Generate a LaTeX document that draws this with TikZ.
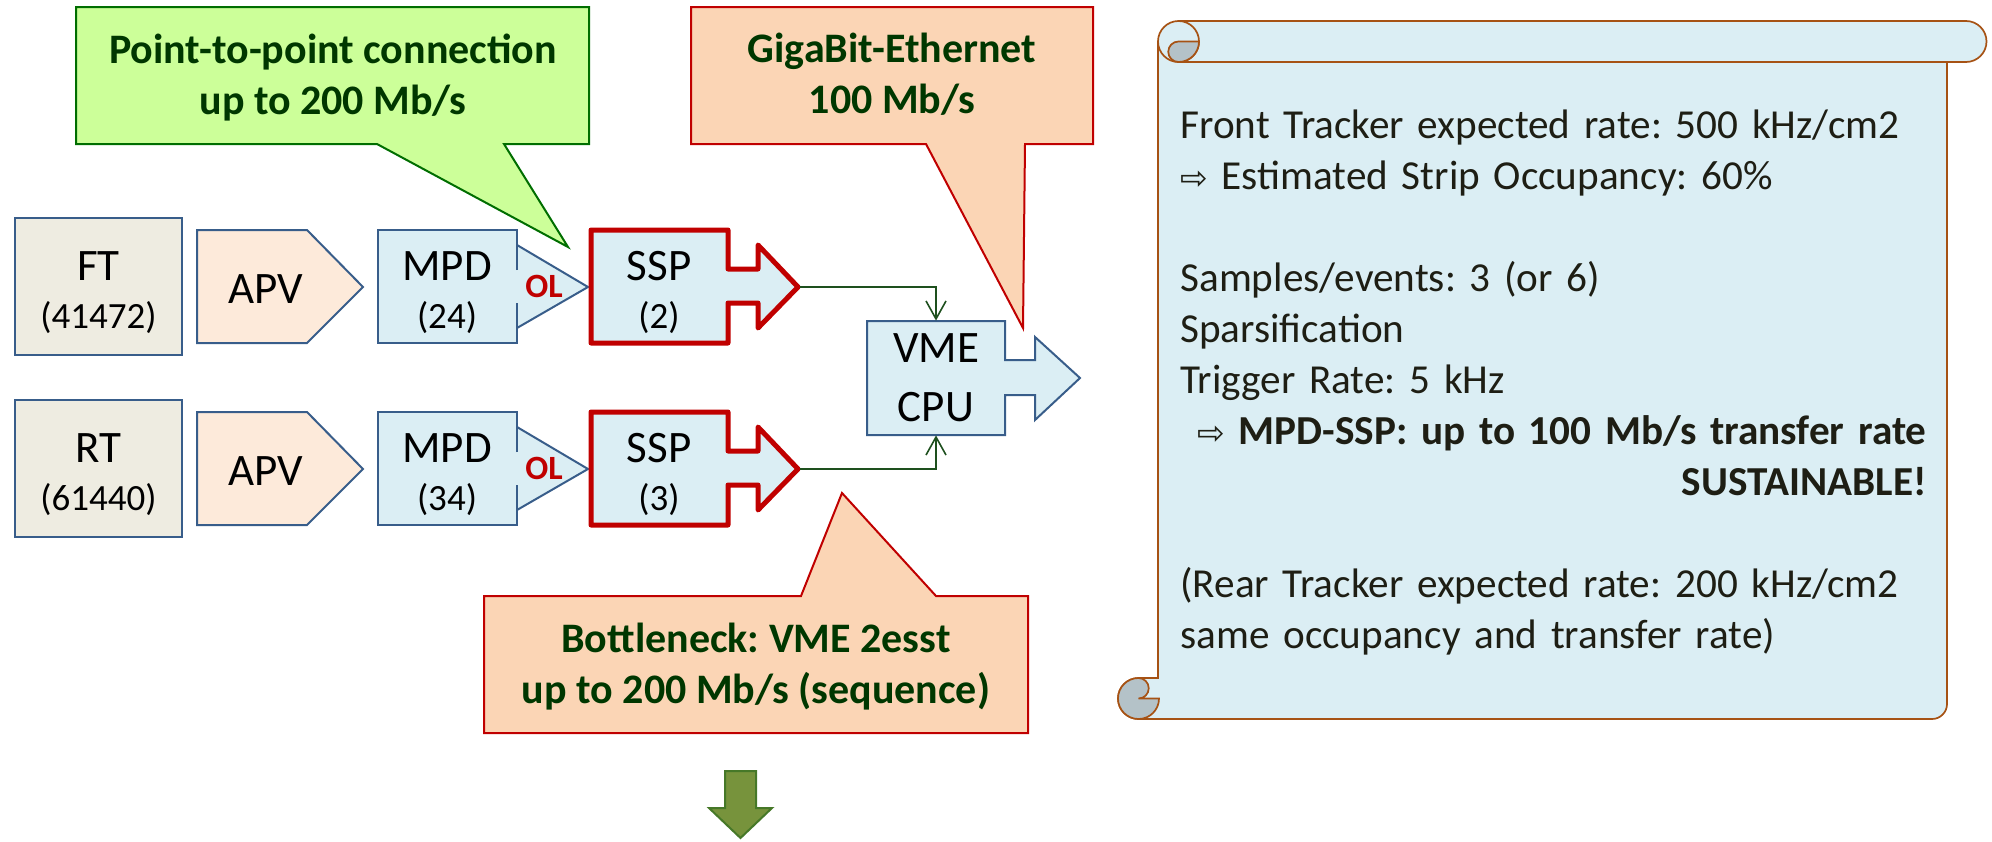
\documentclass[tikz,border=0pt]{standalone}
\usepackage{fontspec}
\setmainfont{Carlito}
\newfontfamily\arrowfont{DejaVu Sans}[Scale=0.8]
\usetikzlibrary{arrows.meta}
\frenchspacing

\definecolor{blkline}{RGB}{56,93,138}
\definecolor{blkfill}{RGB}{219,238,244}
\definecolor{detfill}{RGB}{238,236,225}
\definecolor{apvfill}{RGB}{253,234,218}
\definecolor{sspred}{RGB}{192,0,0}
\definecolor{linkgreen}{RGB}{30,80,30}
\definecolor{notegreen}{RGB}{204,255,153}
\definecolor{noteline}{RGB}{0,110,0}
\definecolor{notepeach}{RGB}{251,213,181}
\definecolor{notetext}{RGB}{0,55,0}
\definecolor{scrollline}{RGB}{166,82,20}
\definecolor{curlgrey}{RGB}{180,194,200}
\definecolor{downgreen}{RGB}{119,147,60}
\definecolor{downline}{RGB}{70,120,40}
\definecolor{scrolltext}{RGB}{30,30,20}

\begin{document}
\begin{tikzpicture}[x=0.5pt, y=-0.5pt,
  blk/.style={draw=blkline, line width=1pt},
  sspbox/.style={draw=sspred, line width=2.5pt, fill=blkfill, line join=round},
  lbl/.style={anchor=base, inner sep=0pt, font=\fontsize{22.5}{27}\selectfont},
  cnt/.style={anchor=base, inner sep=0pt, font=\fontsize{18.5}{22}\selectfont},
  ol/.style={anchor=base, inner sep=0pt, text=sspred, font=\bfseries\fontsize{17}{20}\selectfont},
  link/.style={draw=linkgreen, line width=0.8pt, -{Straight Barb[length=9pt,width=10pt]}},
  note/.style={line width=1pt},
  notetxt/.style={align=center, inner sep=0pt, text=notetext, font=\bfseries\fontsize{21}{25.5}\selectfont},
  scroll/.style={draw=scrollline, line width=0.85pt, fill=blkfill},
  curl/.style={draw=scrollline, line width=0.85pt, fill=curlgrey}]
\useasboundingbox (0,0) rectangle (1992,841);

% the two readout chains
\foreach \i/\dname/\nch/\nmpd/\nssp/\dy in {1/FT/41472/24/2/0, 2/RT/61440/34/3/182}{
\begin{scope}[shift={(0,\dy)}]
  % detector
  \draw[blk, fill=detfill] (15,218) rectangle (182,355);
  \node[lbl] (det\i) at (98.5,280) {\dname};
  \node[cnt] (ch\i) at (98.5,328) {(\nch)};
  % front-end chips
  \draw[blk, fill=apvfill] (197,230) -- (307,230) -- (363,287) -- (307,343) -- (197,343) -- cycle;
  \node[lbl] (apv\i) at (266,303) {APV};
  % MPD with its optical link
  \fill[blkfill] (378,230) -- (517,230) -- (517,245) -- (588,287) -- (517,328) -- (517,343) -- (378,343) -- cycle;
  \draw[blk] (517,270) -- (517,230) -- (378,230) -- (378,343) -- (517,343) -- (517,303);
  \draw[blk] (517,245) -- (588,287) -- (517,328);
  \node[lbl] (mpd\i) at (447,280) {MPD};
  \node[cnt] (nmpd\i) at (447,328) {(\nmpd)};
  \node[ol] (ol\i) at (544,297) {OL};
  % SSP
  \draw[sspbox] (591,230) -- (728,230) -- (728,269) -- (758,269) -- (758,245) -- (798,287)
    -- (758,328) -- (758,303) -- (728,303) -- (728,343) -- (591,343) -- cycle;
  \node[lbl] (ssp\i) at (659,280) {SSP};
  \node[cnt] (nssp\i) at (659,328) {(\nssp)};
  \coordinate (tip\i) at (800,287);
\end{scope}
}

% VME CPU
\draw[blk, fill=blkfill] (867,321) -- (1005,321) -- (1005,360) -- (1035,360) -- (1035,337) -- (1080,378)
  -- (1035,420) -- (1035,395) -- (1005,395) -- (1005,435) -- (867,435) -- cycle;
\node[align=center, inner sep=0pt, minimum width=69pt, minimum height=57pt,
  font=\fontsize{22.5}{29.5}\selectfont] (vme) at (936,378) {VME\\CPU};
\draw[link] (tip1) -| (vme.north);
\draw[link] (tip2) -| (vme.south);

% callouts
\draw[note, draw=noteline, fill=notegreen] (76,7) -- (589,7) -- (589,144) -- (504,144) -- (568,247)
  -- (377,144) -- (76,144) -- cycle;
\node[notetxt] (p2p) at (333,79) {\strut Point-to-point connection\\up to 200 Mb/s\strut};
\draw[note, draw=sspred, fill=notepeach] (691,7) -- (1093,7) -- (1093,144) -- (1025,144) -- (1023,328)
  -- (926,144) -- (691,144) -- cycle;
\node[notetxt] (gbe) at (892,78) {\strut GigaBit-Ethernet\\100 Mb/s\strut};
\draw[note, draw=sspred, fill=notepeach] (484,596) -- (801,596) -- (842,493) -- (936,596)
  -- (1028,596) -- (1028,733) -- (484,733) -- cycle;
\node[notetxt] (neck) at (756,668) {\strut Bottleneck: VME 2esst\\up to 200 Mb/s (sequence)\strut};

\draw[fill=downgreen, draw=downline, line width=1pt] (725,771) -- (756,771) -- (756,808) -- (772,808)
  -- (740.5,838) -- (709,808) -- (725,808) -- cycle;

% scroll with the rate estimate
\draw[scroll] (1158,41.5) -- (1158,678) -- (1138.5,678) arc[start angle=270, end angle=90, radius=20.5]
  -- (1932,719) arc[start angle=90, end angle=0, radius=15] -- (1947,41.5) -- cycle;
\draw[scroll] (1178.5,21) -- (1966,21) arc[start angle=-90, end angle=90, radius=20.5] -- (1178.5,62) -- cycle;
\draw[scroll] (1178.5,41.5) circle[radius=20.5];
\draw[curl] (1199,41.5) -- (1178.5,41.5) arc[start angle=270, end angle=90, radius=10.25]
  arc[start angle=90, end angle=0, radius=20.5] -- cycle;
\draw[curl] (1138.5,678) arc[start angle=270, end angle=90, radius=20.5]
  arc[start angle=90, end angle=0, radius=20.5] -- (1138.5,698.5)
  arc[start angle=90, end angle=-90, radius=10.25] -- cycle;

\node[anchor=north west, inner sep=0pt, text width=373pt, align=left, text=scrolltext,
  font=\fontsize{20.6}{25.5}\selectfont] (rates) at (1180,102.6) {%
  \strut Front Tracker expected rate: 500 kHz/cm2\\
  {\arrowfont ⇨} Estimated Strip Occupancy: 60\%\\[25.5pt]
  Samples/events: 3 (or 6)\\
  Sparsification\\
  Trigger Rate: 5 kHz\\
  \hspace*{\fill}{\arrowfont ⇨} \textbf{MPD-SSP: up to 100 Mb/s transfer rate}\\
  \hspace*{\fill}\textbf{SUSTAINABLE!}\\[25.5pt]
  (Rear Tracker expected rate: 200 kHz/cm2\\
  same occupancy and transfer rate)};
\end{tikzpicture}
\end{document}
